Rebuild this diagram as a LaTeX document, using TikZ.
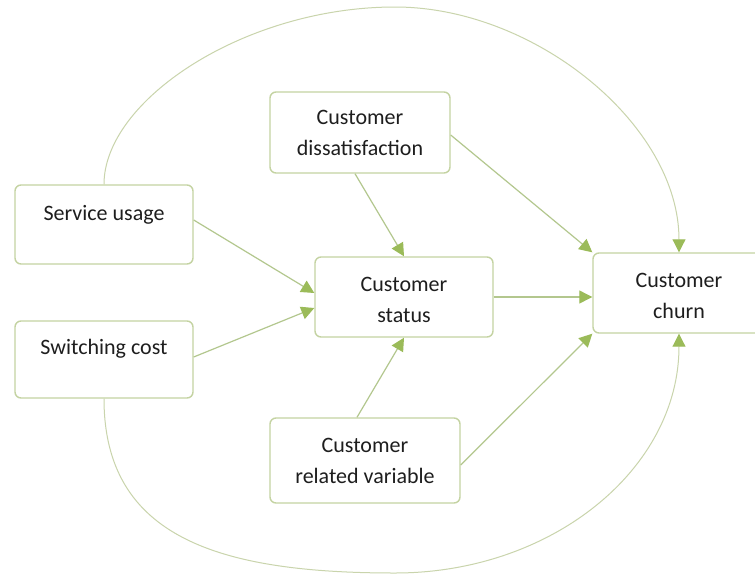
\documentclass[tikz,border=0pt]{standalone}
\usepackage{fontspec}
\setmainfont{Carlito}
\usetikzlibrary{arrows.meta}
\definecolor{boxline}{HTML}{C4D3A2}
\definecolor{conline}{HTML}{B3C78E}
\definecolor{arcline}{HTML}{C9D4AC}
\definecolor{tipgreen}{HTML}{9BBB59}
\definecolor{txtcol}{HTML}{1E1E1E}
\tikzset{
  box/.style={draw=boxline, line width=1.4pt, rounded corners=6pt, fill=white,
    align=center, text=txtcol, font=\fontsize{22}{31}\selectfont, inner sep=0pt},
  toptext/.style={text=txtcol, font=\fontsize{22}{31}\selectfont, anchor=base, inner sep=0pt},
  conn/.style={draw=conline, line width=1.2pt,
    -{Triangle[width=13pt,length=13pt,color=tipgreen]}},
  arcconn/.style={draw=arcline, line width=1pt,
    -{Triangle[width=13pt,length=13pt,color=tipgreen]}}
}
\newcommand{\lowstrut}{\rule{0pt}{20pt}}
\begin{document}
\begin{tikzpicture}[x=1pt,y=-1pt]
\fill[white] (0,0) rectangle (755,576);
\useasboundingbox (0,0) rectangle (755,576);

\node[box, minimum width=178pt, minimum height=79pt,
  label={[toptext, yshift=-36pt]north:Service usage}] (su) at (104,224.5) {};
\node[box, minimum width=178pt, minimum height=77pt,
  label={[toptext, yshift=-34pt]north:Switching cost}] (sc) at (104,359.5) {};
\node[box, minimum width=180pt, minimum height=81pt] (dis) at (360,132.5) {Customer\\dissatisfaction};
\node[box, minimum width=178pt, minimum height=80pt] (st) at (404,297) {\lowstrut Customer\\status};
\node[box, minimum width=172pt, minimum height=80pt] (ch) at (679,293) {\lowstrut Customer\\churn};
\node[box, minimum width=190pt, minimum height=85pt] (rv) at (365,460.5) {Customer\\related variable};

\coordinate (topc) at (395,7);
\coordinate (botc) at (395,573);

\draw[conn] ([yshift=4.5pt]su.east) -- ([yshift=4pt]st.west);
\draw[conn] ([yshift=2.5pt]sc.east) -- ([yshift=-11pt]st.west);
\draw[conn] ([xshift=-5pt]dis.south) -- (st.north);
\draw[conn] ([yshift=-2.5pt]dis.east) -- (ch.north west);
\draw[conn] (st.east) -- (st.east -| ch.west);
\draw[conn] ([xshift=-8pt]rv.north) -- (st.south);
\draw[conn] ([yshift=-4.5pt]rv.east) -- (ch.south west);

\draw[arcconn] (su.north) .. controls (104,100) and (245,7) .. (topc)
  .. controls (535,7) and (679,125) .. (ch.north);
\draw[arcconn] (sc.south) .. controls (104,538) and (220,573) .. (botc)
  .. controls (552,573) and (679,469) .. (ch.south);
\end{tikzpicture}
\end{document}
